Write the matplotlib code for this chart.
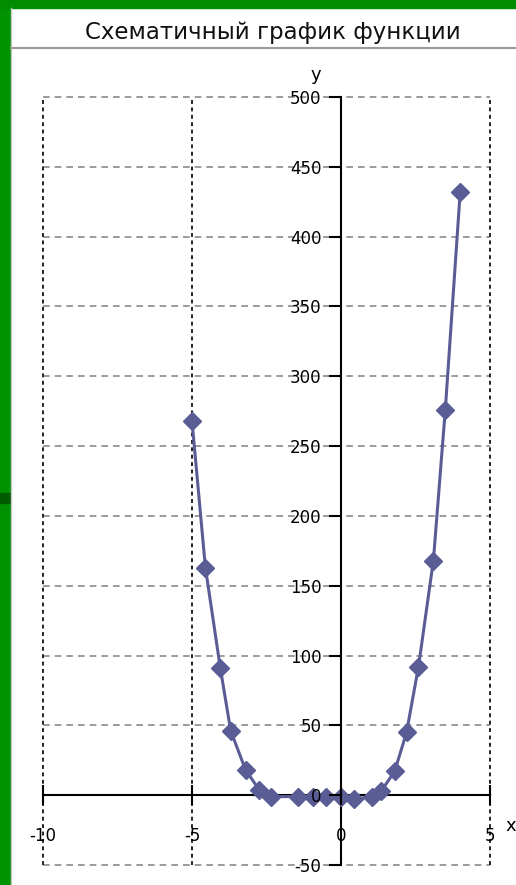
import numpy as np
import matplotlib
matplotlib.use("Agg")
from matplotlib import pyplot as plt
from matplotlib.patches import Rectangle
from matplotlib.lines import Line2D

plt.rcParams["axes.unicode_minus"] = False

# values
x_vals = [-5, -4.55, -4.05, -3.7, -3.2, -2.75, -2.35, -1.45, -0.95, -0.5,
          0, 0.45, 1.05, 1.35, 1.8, 2.2, 2.6, 3.1, 3.5, 4]
y_vals = [268, 163, 91, 46, 18, 4, -1, -1, -1, -1,
          -1, -3, -1, 3, 17, 45, 92, 168, 276, 432]
x_ticks = [-10, -5, 0, 5]
y_ticks = [-50, 0, 50, 100, 150, 200, 250, 300, 350, 400, 450, 500]
title = "Схематичный график функции"

W, H = 516, 885
fig = plt.figure(figsize=(W / 100, H / 100), dpi=100)
fig.patch.set_facecolor("white")

# green frame (slide background)
green = "#008c00"
fig.patches.append(Rectangle((0, 0), 10 / W, 1, transform=fig.transFigure,
                             color="#009200", zorder=0))
fig.patches.append(Rectangle((0, 1 - 8 / H), 1, 8 / H, transform=fig.transFigure,
                             color=green, zorder=0))
fig.patches.append(Rectangle((0, 1 - 503 / H), 10 / W, 10 / H, transform=fig.transFigure,
                             color="#005a00", zorder=0))
fig.lines.append(Line2D([11 / W, 11 / W], [0, 1 - 8 / H], transform=fig.transFigure,
                        color="#c8c8c8", lw=1))

fig.text(0.529, 1 - 33 / H, title, ha="center", va="center",
         fontsize=16.5, family="DejaVu Sans", color="#111111")
fig.lines.append(Line2D([11 / W, 1], [1 - 48 / H, 1 - 48 / H], transform=fig.transFigure,
                        color="#999999", lw=1.5))

ax = fig.add_axes([43 / W, 20 / H, (490 - 43) / W, (865 - 97) / H])
ax.set_xlim(-10, 5)
ax.set_ylim(-50, 500)
ax.set_facecolor("none")

for s in ["top", "right"]:
    ax.spines[s].set_visible(False)
ax.spines["left"].set_position(("data", 0))
ax.spines["bottom"].set_position(("data", 0))
ax.spines["left"].set_linewidth(1.5)
ax.spines["bottom"].set_linewidth(1.5)

ax.set_xticks(x_ticks)
ax.set_yticks(y_ticks)
ax.tick_params(axis="x", direction="inout", length=14, width=1.5, pad=16,
               labelsize=12)
ax.tick_params(axis="y", direction="out", length=9, width=1.5, pad=5,
               labelsize=12)
ax.xaxis.set_zorder(4)
ax.yaxis.set_zorder(4)

# grid: dashed horizontals, dotted verticals
for yv in y_ticks:
    if yv != 0:
        ax.axhline(yv, color="#8a8a8a", lw=1.2, ls=(0, (4, 3)), zorder=0.5,
                   clip_on=False)
for xv in x_ticks:
    if xv != 0:
        ax.axvline(xv, color="#222222", lw=1.4, ls=(0, (2, 1.8)), zorder=0.5,
                   clip_on=False)

ax.plot(x_vals, y_vals, color="#5a5d95", lw=2.2, marker="D", markersize=9,
        zorder=3, clip_on=False)

ax.text(-0.85, 509, "y", ha="center", va="bottom", fontsize=13)
ax.text(5.7, -22, "x", ha="center", va="center", fontsize=13, clip_on=False)

fig.savefig("out.png", dpi=100)
